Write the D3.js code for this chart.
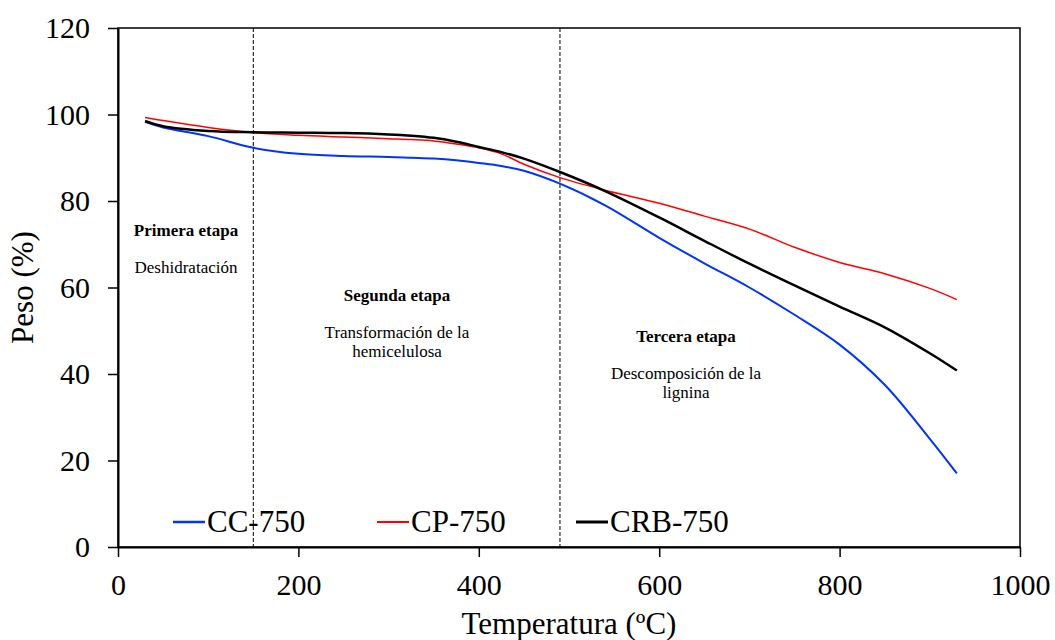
<!DOCTYPE html>
<html>
<head>
<meta charset="utf-8">
<script src="https://cdn.jsdelivr.net/npm/d3@7"></script>
<style>
  body { margin: 0; background: #fff; }
  text { font-family: "Liberation Serif", "Times New Roman", serif; fill: #000; }
</style>
</head>
<body>
<div id="chart"></div>
<script>
const temps = [30, 50, 100, 150, 200, 250, 300, 325, 350, 375, 400, 425, 450, 490, 540, 600, 650, 700, 750, 800, 850, 900, 930];
const cc750 = [98.3, 97.0, 95.0, 92.3, 90.9, 90.4, 90.2, 90.0, 89.8, 89.4, 88.8, 88.1, 87.0, 84.0, 79.0, 71.5, 65.6, 60.0, 53.7, 46.8, 37.5, 25.0, 17.0];
const cp750 = [99.3, 98.6, 97.0, 95.8, 95.2, 94.8, 94.4, 94.2, 93.9, 93.2, 92.3, 90.9, 88.5, 85.4, 82.5, 79.5, 76.5, 73.5, 69.3, 65.8, 63.2, 59.8, 57.2];
const crb750 = [98.5, 97.3, 96.2, 95.9, 95.8, 95.7, 95.4, 95.1, 94.6, 93.7, 92.5, 91.3, 89.8, 86.7, 82.3, 76.2, 70.8, 65.5, 60.5, 55.6, 50.8, 44.8, 40.8];
const seriesNames = ["CC-750", "CP-750", "CRB-750"];
const seriesColors = ["#0033ff", "#ff0000", "#000000"];
const seriesWidths = [2, 1.5, 2.5];
const stageBounds = [150, 490];
const xTicks = [0, 200, 400, 600, 800, 1000];
const yTicks = [0, 20, 40, 60, 80, 100, 120];

const width = 1055, height = 640;
const margin = {left: 118, right: 35, top: 28, bottom: 93};

const svg = d3.select("#chart").append("svg")
    .attr("width", width)
    .attr("height", height);

const x = d3.scaleLinear().domain([0, 1000]).range([margin.left, width - margin.right]);
const y = d3.scaleLinear().domain([0, 120]).range([height - margin.bottom, margin.top]);

// frame
svg.append("rect")
    .attr("x", x(0)).attr("y", y(120))
    .attr("width", x(1000) - x(0)).attr("height", y(0) - y(120))
    .style("fill", "none").style("stroke", "#000").style("stroke-width", 1.5);

// dashed stage limits
svg.selectAll(".stage")
    .data(stageBounds)
    .enter().append("line")
    .attr("class", "stage")
    .attr("x1", d => x(d)).attr("x2", d => x(d))
    .attr("y1", y(120)).attr("y2", y(0))
    .style("stroke", "#000").style("stroke-width", 1)
    .style("stroke-dasharray", "4,2");

const fmt = d3.format("d");
const xAxis = svg.append("g")
    .attr("transform", `translate(0,${y(0)})`)
    .call(d3.axisBottom(x).tickValues(xTicks).tickFormat(fmt).tickSize(10).tickSizeOuter(0).tickPadding(17));
const yAxis = svg.append("g")
    .attr("transform", `translate(${x(0)},0)`)
    .call(d3.axisLeft(y).tickValues(yTicks).tickFormat(fmt).tickSize(10).tickSizeOuter(0).tickPadding(18));
[xAxis, yAxis].forEach(a => {
    a.attr("font-family", "Liberation Serif").attr("font-size", 30);
    a.select(".domain").style("stroke", "#000").style("stroke-width", 2);
    a.selectAll(".tick line").style("stroke", "#000").style("stroke-width", 1.5);
    a.selectAll(".tick text").style("font-size", "30px");
});

const line = d3.line()
    .x((d, i) => x(temps[i]))
    .y(d => y(d))
    .curve(d3.curveCatmullRom.alpha(0.5));

[cc750, cp750, crb750].forEach((vals, i) => {
    svg.append("path")
        .datum(vals)
        .attr("d", line)
        .style("fill", "none")
        .style("stroke", seriesColors[i])
        .style("stroke-width", seriesWidths[i]);
});

// stage annotations
const notes = [
    {cx: 186, y: 236, title: "Primera etapa", lines: ["Deshidratación"]},
    {cx: 397, y: 301, title: "Segunda etapa", lines: ["Transformación de la", "hemicelulosa"]},
    {cx: 686, y: 342, title: "Tercera etapa", lines: ["Descomposición de la", "lignina"]}
];
notes.forEach(n => {
    const g = svg.append("g");
    g.append("text")
        .attr("x", n.cx).attr("y", n.y)
        .attr("text-anchor", "middle")
        .style("font-size", "17px").style("font-weight", "bold")
        .text(n.title);
    n.lines.forEach((t, j) => {
        g.append("text")
            .attr("x", n.cx).attr("y", n.y + 37 + j * 19)
            .attr("text-anchor", "middle")
            .style("font-size", "17px")
            .text(t);
    });
});

// legend
const legendX = [173, 377, 576];
seriesNames.forEach((name, i) => {
    svg.append("line")
        .attr("x1", legendX[i]).attr("x2", legendX[i] + 32)
        .attr("y1", 522).attr("y2", 522)
        .style("stroke", seriesColors[i])
        .style("stroke-width", seriesWidths[i] + 0.5);
    svg.append("text")
        .attr("x", legendX[i] + 34).attr("y", 532)
        .style("font-size", "31px")
        .text(name);
});

// axis titles
svg.append("text")
    .attr("x", (x(0) + x(1000)) / 2).attr("y", 634)
    .attr("text-anchor", "middle")
    .style("font-size", "31px")
    .text("Temperatura (ºC)");
svg.append("text")
    .attr("transform", `translate(33,${y(60)}) rotate(-90)`)
    .attr("text-anchor", "middle")
    .style("font-size", "31px")
    .text("Peso (%)");
</script>
</body>
</html>
